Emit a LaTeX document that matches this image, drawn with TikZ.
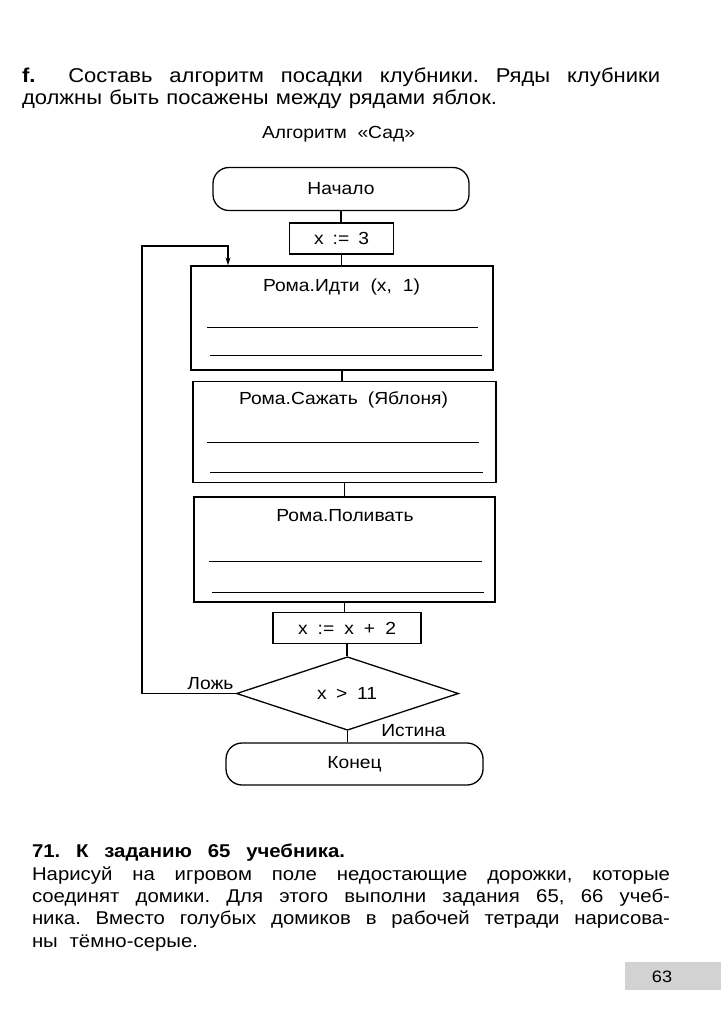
\documentclass[tikz,border=0pt]{standalone}
\usepackage{fontspec}
\setmainfont[FakeStretch=1.1]{Liberation Sans}
\usetikzlibrary{shapes.geometric,arrows.meta}
\tikzset{
  txt/.style={inner sep=0pt,outer sep=0pt,anchor=base west},
  fbox/.style={draw,line width=1.3pt,rectangle,inner sep=0pt,minimum width=#1},
  term/.style={draw,line width=1.3pt,rectangle,rounded corners=16pt,inner sep=0pt},
  fill line/.style={line width=0.9pt},
  conn/.style={line width=1.2pt},
  ftext/.style={inner sep=0pt,font=\fontsize{17.5}{19}\selectfont},
}
\begin{document}
\frenchspacing
\begin{tikzpicture}[x=1pt,y=-1pt]
\useasboundingbox[fill=white] (0,0) rectangle (721,1033);
% top text
\node[txt,font=\fontsize{20}{24}\selectfont] (t1) at (22,82) {\makebox[638pt][s]{\textbf{f.}\hspace{16pt} Составь алгоритм посадки клубники. Ряды клубники}};
\node[txt,font=\fontsize{20}{24}\selectfont] (t2) at (22,104) {\makebox[475pt][s]{должны быть посажены между рядами яблок.}};
\node[inner sep=0pt,anchor=base,font=\fontsize{17.5}{20}\selectfont] (title) at (338.5,138) {\makebox[153pt][s]{Алгоритм «Сад»}};
% flowchart
\node[term,minimum width=256pt,minimum height=43pt,ftext] (start) at (341,189) {Начало};
\node[fbox=104pt,minimum height=31pt,ftext] (a) at (341.5,238.5) {\makebox[55pt][s]{x := 3}};
\node[fbox=302pt,minimum height=104pt] (b1) at (342,318) {};
\node[fbox=303pt,minimum height=101pt] (b2) at (344.5,432) {};
\node[fbox=301pt,minimum height=105pt] (b3) at (344.5,549.5) {};
\node[fbox=148pt,minimum height=31pt,ftext] (c) at (347,628) {\makebox[98pt][s]{x := x + 2}};
\node[draw,line width=1.3pt,diamond,minimum width=222pt,minimum height=73.5pt,inner sep=0pt] (d) at (347.5,693.5) {};
\node[ftext] (dt) at (347,693) {\makebox[60pt][s]{x > 11}};
\node[term,minimum width=257pt,minimum height=42pt,ftext] (e) at (354.5,764) {Конец};
% box texts
\node[ftext] (b1t) at (341.5,287) {\makebox[157pt][s]{Рома.Идти (x, 1)}};
\node[ftext] (b2t) at (343.5,400) {\makebox[209pt][s]{Рома.Сажать (Яблоня)}};
\node[ftext] (b3t) at (345,516) {Рома.Поливать};
% fill-in lines
\draw[fill line] (207,327) -- (478,327);
\draw[fill line] (210,355) -- (482,355);
\draw[fill line] (207,442) -- (479,442);
\draw[fill line] (210,472) -- (483,472);
\draw[fill line] (209,561) -- (482,561);
\draw[fill line] (212,592) -- (484,592);
% connectors
\draw[conn] (start.south) -- (start.south |- a.north);
\draw[conn] (a.south) -- (a.south |- b1.north);
\draw[conn] (b1.south) -- (b1.south |- b2.north);
\draw[conn] (b2.south) -- (b2.south |- b3.north);
\draw[conn] (b3.south) -- (b3.south |- c.north);
\draw[conn] (c.south) -- (c.south |- d.north);
\draw[conn] (d.south) -- (d.south |- e.north);
\coordinate (lp) at (142,246);
\coordinate (lpe) at (228,246);
\draw[conn,-{Stealth[length=8pt,width=5pt]}] (d.west) -| (lp) -- (lpe) -- (lpe |- b1.north);
\node[ftext] (false) at (210.5,684) {Ложь};
\node[ftext] (true) at (413.5,731) {Истина};
% bottom text
\node[txt,font=\fontsize{18.5}{22}\selectfont\bfseries] (h71) at (32,857) {\makebox[313pt][s]{71. К заданию 65 учебника.}};
\node[txt,font=\fontsize{18.5}{22}\selectfont] (p1) at (32,880) {\makebox[638pt][s]{Нарисуй на игровом поле недостающие дорожки, которые}};
\node[txt,font=\fontsize{18.5}{22}\selectfont] (p2) at (32,902) {\makebox[638pt][s]{соединят домики. Для этого выполни задания 65, 66 учеб-}};
\node[txt,font=\fontsize{18.5}{22}\selectfont] (p3) at (32,924) {\makebox[638pt][s]{ника. Вместо голубых домиков в рабочей тетради нарисова-}};
\node[txt,font=\fontsize{18.5}{22}\selectfont] (p4) at (32,947) {\makebox[166pt][s]{ны тёмно-серые.}};
% page number
\fill[gray!35] (625,962) rectangle (721,990);
\node[inner sep=0pt,font=\fontsize{16.5}{18}\selectfont] (pg) at (662,977) {63};
\end{tikzpicture}
\end{document}
